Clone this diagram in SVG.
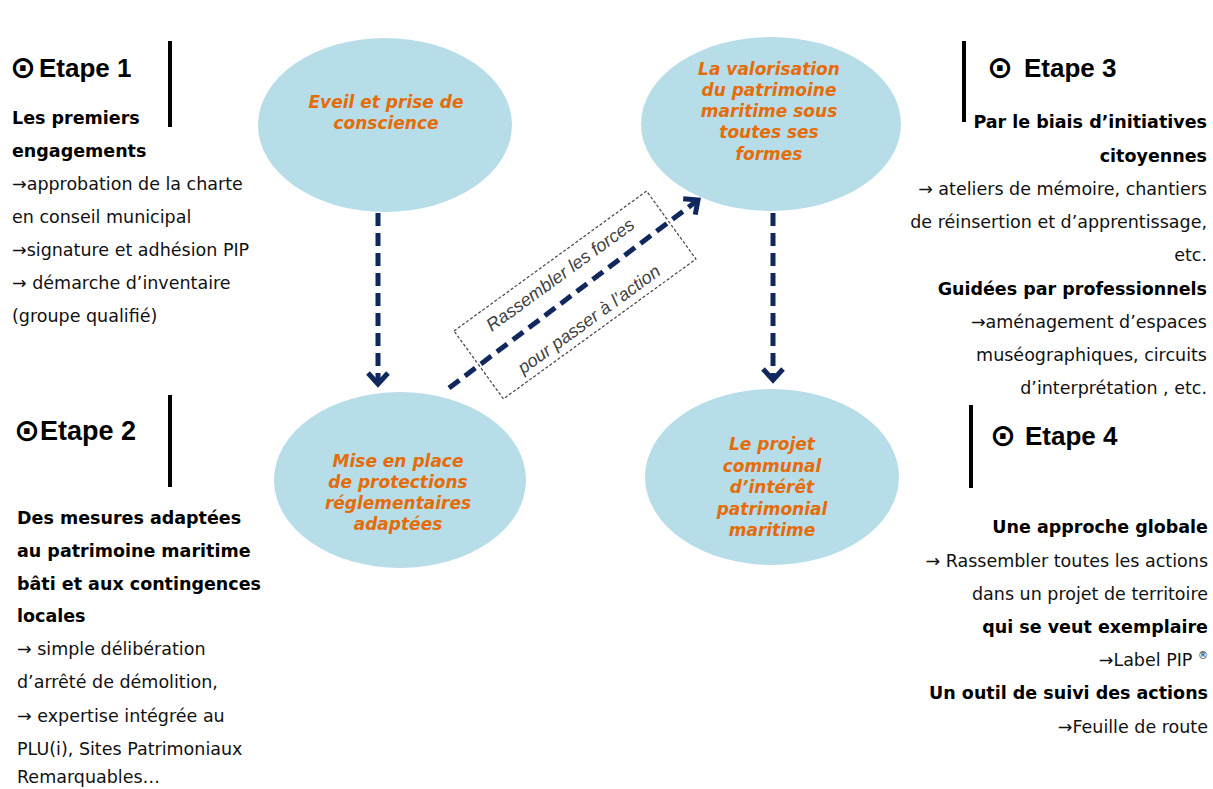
<svg xmlns="http://www.w3.org/2000/svg" width="1213" height="789" viewBox="0 0 1213 789">
<defs>
<style>
.bg{fill:#ffffff}
.ell{fill:#B7DDE8;stroke:none}
.etxt{font-family:"DejaVu Sans",Verdana,sans-serif;font-size:17px;font-weight:bold;font-style:italic;fill:#E46C0A;text-anchor:middle}
.head{font-family:"Liberation Sans",Arial,sans-serif;font-size:26px;font-weight:bold;fill:#000}
.sym{font-family:"DejaVu Sans",sans-serif;font-size:31px;font-weight:bold;fill:#000}
.b{font-family:"DejaVu Sans",Verdana,sans-serif;font-size:17.5px;font-weight:bold;fill:#000}
.t{font-family:"DejaVu Sans",Verdana,sans-serif;font-size:17.5px;fill:#111}
.r{text-anchor:end}
.bar{stroke:#000;stroke-width:4}
.conn{fill:none;stroke:#10285E;stroke-width:5;stroke-dasharray:13 7}
.box{fill:none;stroke:#444;stroke-width:1.2;stroke-dasharray:3 2}
.btxt{font-family:"Liberation Sans",Arial,sans-serif;font-size:18px;font-style:italic;fill:#404040;text-anchor:middle}
</style>
<marker id="chev" markerUnits="userSpaceOnUse" markerWidth="30" markerHeight="30" viewBox="-15 -15 30 30" refX="0" refY="0" orient="auto">
<path d="M-11,-10 L0,0 L-11,10" fill="none" stroke="#10285E" stroke-width="5" stroke-dasharray="none" stroke-linejoin="miter"/>
</marker>
</defs>
<rect class="bg" x="0" y="0" width="1213" height="789"/>

<g id="connectors">
<path class="conn" d="M378,213 L378,384" marker-end="url(#chev)"/>
<path class="conn" d="M773,213 L773,380" marker-end="url(#chev)"/>
<path class="conn" d="M449,388 L698,200" marker-end="url(#chev)"/>
</g>

<g id="node-eveil">
<ellipse class="ell" cx="385" cy="125" rx="127" ry="87"/>
<text class="etxt"><tspan x="386" y="108">Eveil et prise de</tspan><tspan x="386" y="129">conscience</tspan></text>
</g>

<g id="node-valorisation">
<ellipse class="ell" cx="771" cy="124" rx="130" ry="87"/>
<text class="etxt"><tspan x="769" y="75">La valorisation</tspan><tspan x="769" y="96">du patrimoine</tspan><tspan x="769" y="117">maritime sous</tspan><tspan x="769" y="138">toutes ses</tspan><tspan x="769" y="160">formes</tspan></text>
</g>

<g id="node-mise">
<ellipse class="ell" cx="400" cy="480" rx="126" ry="88"/>
<text class="etxt"><tspan x="398" y="467">Mise en place</tspan><tspan x="398" y="488">de protections</tspan><tspan x="398" y="509">réglementaires</tspan><tspan x="398" y="530">adaptées</tspan></text>
</g>

<g id="node-projet">
<ellipse class="ell" cx="772" cy="477" rx="127" ry="88"/>
<text class="etxt"><tspan x="772" y="450">Le projet</tspan><tspan x="772" y="471.5">communal</tspan><tspan x="772" y="493">d’intérêt</tspan><tspan x="772" y="514.5">patrimonial</tspan><tspan x="772" y="536">maritime</tspan></text>
</g>

<g id="label-rassembler" transform="translate(575,295) rotate(-36)">
<rect class="box" x="-119" y="-42" width="238" height="84"/>
<text class="btxt" x="0" y="-19">Rassembler les forces</text>
<text class="btxt" x="-3" y="34">pour passer à l’action</text>
</g>

<g id="etape1">
<line class="bar" x1="170" y1="41" x2="170" y2="127"/>
<text class="sym" x="10" y="78">⊙</text>
<text class="head" x="39" y="77">Etape 1</text>
<text class="b" x="12" y="124">Les premiers</text>
<text class="b" x="12" y="157">engagements</text>
<text class="t" x="12" y="190">→approbation de la charte</text>
<text class="t" x="12" y="223">en conseil municipal</text>
<text class="t" x="12" y="256">→signature et adhésion PIP</text>
<text class="t" x="12" y="289">→ démarche d’inventaire</text>
<text class="t" x="12" y="322">(groupe qualifié)</text>
</g>

<g id="etape2">
<line class="bar" x1="170" y1="395" x2="170" y2="487"/>
<text class="sym" x="14" y="441">⊙</text>
<text class="head" x="40" y="440" style="font-size:27px">Etape 2</text>
<text class="b" x="17" y="524">Des mesures adaptées</text>
<text class="b" x="17" y="557">au patrimoine maritime</text>
<text class="b" x="17" y="590">bâti et aux contingences</text>
<text class="b" x="17" y="622">locales</text>
<text class="t" x="17" y="655">→ simple délibération</text>
<text class="t" x="17" y="688">d’arrêté de démolition,</text>
<text class="t" x="17" y="722">→ expertise intégrée au</text>
<text class="t" x="17" y="755">PLU(i), Sites Patrimoniaux</text>
<text class="t" x="17" y="783">Remarquables…</text>
</g>

<g id="etape3">
<line class="bar" x1="964" y1="41" x2="964" y2="122"/>
<text class="sym" x="987" y="78">⊙</text>
<text class="head" x="1024" y="77">Etape 3</text>
<text class="b r" x="1207" y="128">Par le biais d’initiatives</text>
<text class="b r" x="1207" y="162">citoyennes</text>
<text class="t r" x="1207" y="195">→ ateliers de mémoire, chantiers</text>
<text class="t r" x="1207" y="228">de réinsertion et d’apprentissage,</text>
<text class="t r" x="1207" y="261">etc.</text>
<text class="b r" x="1207" y="295">Guidées par professionnels</text>
<text class="t r" x="1207" y="328">→aménagement d’espaces</text>
<text class="t r" x="1207" y="361">muséographiques, circuits</text>
<text class="t r" x="1207" y="394">d’interprétation , etc.</text>
</g>

<g id="etape4">
<line class="bar" x1="971" y1="405" x2="971" y2="488"/>
<text class="sym" x="990" y="446">⊙</text>
<text class="head" x="1025" y="445">Etape 4</text>
<text class="b r" x="1208" y="533">Une approche globale</text>
<text class="t r" x="1208" y="567">→ Rassembler toutes les actions</text>
<text class="t r" x="1208" y="600">dans un projet de territoire</text>
<text class="b r" x="1208" y="633">qui se veut exemplaire</text>
<text class="t r" x="1208" y="666">→Label PIP <tspan style="font-size:10px" dy="-7">®</tspan></text>
<text class="b r" x="1208" y="699">Un outil de suivi des actions</text>
<text class="t r" x="1208" y="733">→Feuille de route</text>
</g>
</svg>
